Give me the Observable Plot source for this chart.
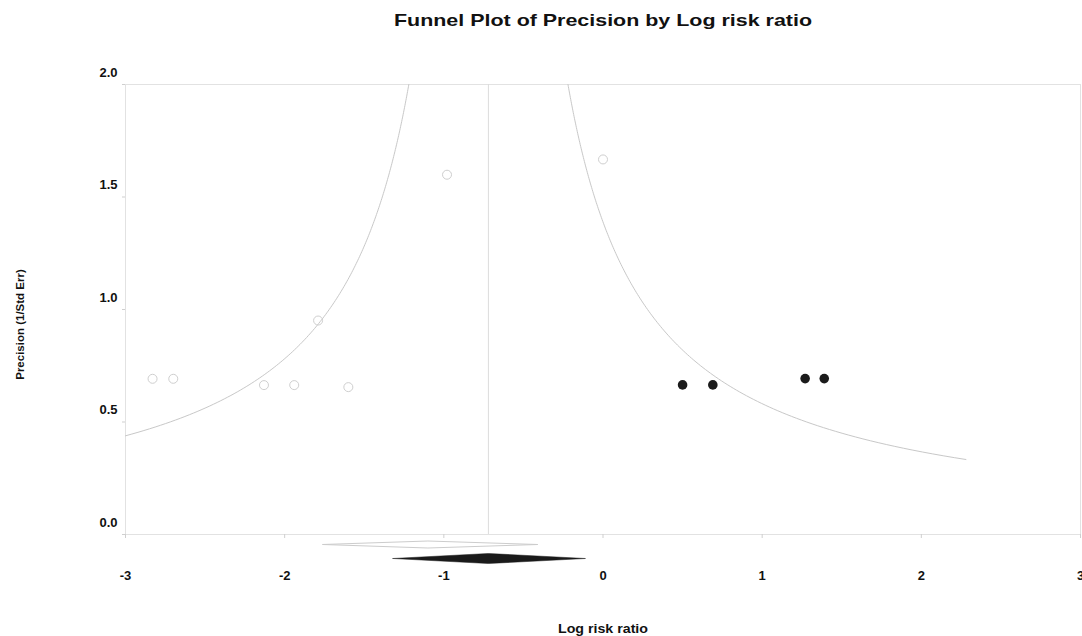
<!DOCTYPE html>
<html>
<head>
<meta charset="utf-8">
<script src="https://cdn.jsdelivr.net/npm/d3@7"></script>
<script src="https://cdn.jsdelivr.net/npm/@observablehq/plot@0.6"></script>
<style>
  html, body { margin: 0; padding: 0; background: white; }
</style>
</head>
<body>
<div id="chart"></div>
<script>
// ---- Data ----
const title = "Funnel Plot of Precision by Log risk ratio";
const xLabel = "Log risk ratio";
const yLabel = "Precision (1/Std Err)";
const xTicks = [-3, -2, -1, 0, 1, 2, 3];
const yTicks = [0, 0.5, 1.0, 1.5, 2.0];

// Observed studies (open circles)
const observedX = [-2.83, -2.70, -2.13, -1.94, -1.60, -1.79, -0.98, 0.00];
const observedP = [0.692, 0.692, 0.664, 0.664, 0.655, 0.951, 1.599, 1.667];

// Imputed studies (filled circles)
const imputedX = [0.50, 0.69, 1.27, 1.39];
const imputedP = [0.665, 0.665, 0.693, 0.693];

// Summary estimates: [lower, estimate, upper]
const observedSummary = [-1.76, -1.10, -0.41];
const adjustedSummary = [-1.32, -0.72, -0.11];

// Funnel
const funnelCenter = -0.72;
const funnelTopP = 2.0;
const funnelLeftEndX = -3.0;
const funnelRightEndX = 2.28;

// ---- Build mark data ----
const observed = observedX.map((x, i) => ({x, p: observedP[i]}));
const imputed = imputedX.map((x, i) => ({x, p: imputedP[i]}));

function funnelSide(sign, endX) {
  const pEnd = 1 / Math.abs(endX - funnelCenter);
  const n = 200;
  const pts = [];
  for (let i = 0; i <= n; i++) {
    const p = funnelTopP + (pEnd - funnelTopP) * i / n;
    pts.push({x: funnelCenter + sign / p, p});
  }
  return pts;
}
const funnelLeft = funnelSide(-1, funnelLeftEndX);
const funnelRight = funnelSide(1, funnelRightEndX);

const pxPerUnit = 450 / 2; // y: frame height / domain span
function diamond(s, centerPx, halfPx) {
  const yc = -centerPx / pxPerUnit, h = halfPx / pxPerUnit;
  return [
    {x: s[0], p: yc},
    {x: s[1], p: yc + h},
    {x: s[2], p: yc},
    {x: s[1], p: yc - h},
    {x: s[0], p: yc}
  ];
}
const diamondObserved = diamond(observedSummary, 10, 3.5);
const diamondAdjusted = diamond(adjustedSummary, 24, 5);

const font = "'Liberation Sans', Arial, Helvetica, sans-serif";

const chart = Plot.plot({
  width: 1082,
  height: 636,
  marginLeft: 125,
  marginRight: 2,
  marginTop: 84,
  marginBottom: 102,
  x: {domain: [-3, 3]},
  y: {domain: [0, 2]},
  style: {fontFamily: font, background: "white", overflow: "visible", color: "#111"},
  marks: [
    Plot.frame({stroke: "#e2e2e2"}),
    Plot.ruleX([funnelCenter], {stroke: "#dcdcdc", strokeWidth: 1}),
    Plot.line(funnelLeft, {x: "x", y: "p", stroke: "#c8c8c8", strokeWidth: 1}),
    Plot.line(funnelRight, {x: "x", y: "p", stroke: "#c8c8c8", strokeWidth: 1}),
    Plot.axisX(xTicks, {tickSize: 4, stroke: "#cfcfcf", tickFormat: () => "", label: null}),
    Plot.axisX(xTicks, {tickSize: 0, tickPadding: 36, tickFormat: d => String(d), fontSize: 13, fontWeight: "bold", fill: "#111", label: null}),
    Plot.axisY(yTicks, {tickSize: 3, stroke: "#cfcfcf", tickFormat: () => "", label: null}),
    Plot.axisY(yTicks, {tickSize: 0, tickPadding: 8, dy: -12, tickFormat: d3.format(".1f"), fontSize: 13, fontWeight: "bold", fill: "#111", label: null}),
    Plot.line(diamondObserved, {x: "x", y: "p", fill: "white", stroke: "#cccccc", strokeWidth: 1}),
    Plot.line(diamondAdjusted, {x: "x", y: "p", fill: "#1a1a1a", stroke: "#1a1a1a", strokeWidth: 0.5}),
    Plot.dot(observed, {x: "x", y: "p", r: 4.5, stroke: "#cfcfcf", strokeWidth: 1, fill: "none"}),
    Plot.dot(imputed, {x: "x", y: "p", r: 4.8, fill: "#1b1b1b", stroke: "none"}),
    Plot.text([title], {frameAnchor: "top", lineAnchor: "middle", dy: -64, fontSize: 17, fontWeight: "bold", fill: "#111"}),
    Plot.text([xLabel], {frameAnchor: "bottom", lineAnchor: "middle", dy: 94, fontSize: 13, fontWeight: "bold", fill: "#111"}),
    Plot.text([yLabel], {frameAnchor: "left", textAnchor: "middle", lineAnchor: "middle", dx: -105, dy: 15, rotate: -90, fontSize: 11.5, fontWeight: "bold", fill: "#111"})
  ]
});
document.getElementById("chart").appendChild(chart);

// Horizontal widths as in the reference
d3.select(chart).selectAll("text").each(function () {
  const t = d3.select(this);
  const s = t.text();
  if (s === title) t.attr("textLength", 418).attr("lengthAdjust", "spacingAndGlyphs");
  if (s === xLabel) t.attr("textLength", 90).attr("lengthAdjust", "spacingAndGlyphs");
});
</script>
</body>
</html>
